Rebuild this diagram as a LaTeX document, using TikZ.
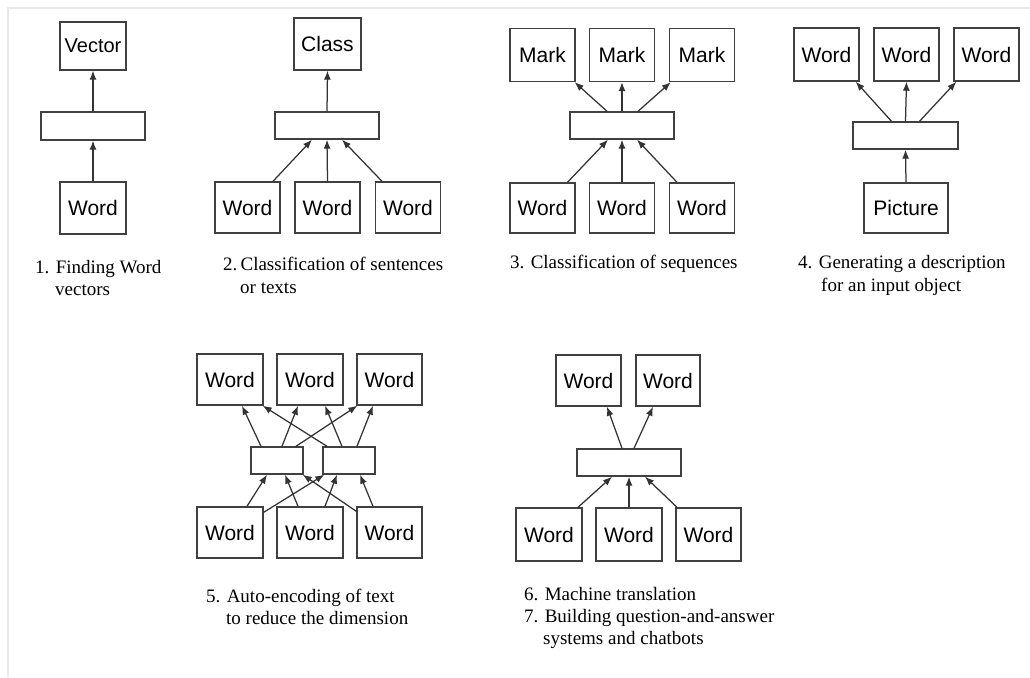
\documentclass[tikz,border=0pt]{standalone}
\usepackage{fontspec}
\setmainfont{Liberation Serif}
\newfontfamily\wordsf{Liberation Sans}
\usetikzlibrary{arrows.meta,calc}
\begin{document}
\begin{tikzpicture}[x=1pt,y=-1pt,
  box/.style={draw=black!75, line width=1.4pt, inner sep=0pt, fill=white,
    font=\wordsf\fontsize{21}{25}\selectfont},
  wbox/.style={box, minimum width=65pt, minimum height=51pt},
  hbox/.style={box, minimum width=104pt, minimum height=27pt},
  sbox/.style={box, minimum width=52pt, minimum height=27pt},
  arr/.style={draw=black!80, line width=1.25pt, -{Latex[length=9pt,width=7pt]}},
  captext/.style={anchor=base west, inner sep=0pt, font=\fontsize{19}{22}\selectfont}]
\useasboundingbox (0,0) rectangle (1030,677);
\fill[white] (0,0) rectangle (1030,677);
\draw[black!9, line width=1.2pt] (8,677) -- (8,8) -- (1030,8);

% ---------- Diagram 1
\node[wbox, minimum width=66pt, minimum height=48pt, font=\wordsf\fontsize{20}{24}\selectfont] (v1) at (93,46) {Vector};
\node[hbox, minimum height=28pt] (h1) at (93,126) {};
\node[wbox, minimum width=66pt, minimum height=52pt] (w1) at (93,208) {Word};
\draw[arr] (w1.north) -- (h1.south);
\draw[arr] (h1.north) -- (v1.south);
\node[captext] (c1a) at (35,273) {1. Finding Word};
\node[captext] (c1b) at (55,295) {vectors};

% ---------- Diagram 2
\node[wbox, minimum width=67pt, minimum height=52pt] (c2) at (327.5,44) {Class};
\node[hbox] (h2) at (327,125.5) {};
\node[wbox] (w21) at (247.5,207.5) {Word};
\node[wbox] (w22) at (327.5,207.5) {Word};
\node[wbox] (w23) at (408,207.5) {Word};
\draw[arr] ($(w21.north)+(25.5,0)$) -- ($(h2.south)+(-15,0)$);
\draw[arr] (w22.north) -- (h2.south);
\draw[arr] ($(w23.north)+(-26,0)$) -- ($(h2.south)+(15,0)$);
\draw[arr] (h2.north) -- (c2.south);
\node[captext] (c2a) at (223,270) {2.\,Classification of sentences};
\node[captext] (c2b) at (240,293) {or texts};

% ---------- Diagram 3
\node[wbox, minimum height=53pt] (m31) at (542.5,55) {Mark};
\node[wbox, minimum height=53pt] (m32) at (622,55) {Mark};
\node[wbox, minimum height=53pt] (m33) at (702,55) {Mark};
\node[hbox] (h3) at (622,125.5) {};
\node[wbox, minimum height=50pt] (w31) at (542.5,208) {Word};
\node[wbox, minimum height=50pt] (w32) at (622,208) {Word};
\node[wbox, minimum height=50pt] (w33) at (702,208) {Word};
\draw[arr] ($(h3.north)+(-15,0)$) -- ($(m31.south east)+(-1,0)$);
\draw[arr] (h3.north) -- (m32.south);
\draw[arr] ($(h3.north)+(16,0)$) -- ($(m33.south west)+(2,0)$);
\draw[arr] ($(w31.north)+(25,0)$) -- ($(h3.south)+(-14,0)$);
\draw[arr] (w32.north) -- (h3.south);
\draw[arr] ($(w33.north)+(-25,0)$) -- ($(h3.south)+(15,0)$);
\node[captext] (c3a) at (510,268) {3. Classification of sequences};

% ---------- Diagram 4
\node[wbox, minimum height=53pt] (w41) at (826.5,54.5) {Word};
\node[wbox, minimum height=53pt] (w42) at (906.5,54.5) {Word};
\node[wbox, minimum height=53pt] (w43) at (986.5,54.5) {Word};
\node[hbox, minimum width=105pt] (h4) at (905.5,135.5) {};
\node[wbox, minimum width=84pt, minimum height=50pt] (p4) at (906,208) {Picture};
\draw[arr] ($(h4.north)+(-14,0)$) -- ($(w41.south east)+(-4,0)$);
\draw[arr] (h4.north) -- (w42.south);
\draw[arr] ($(h4.north)+(14,0)$) -- ($(w43.south west)+(3,0)$);
\draw[arr] (p4.north) -- (h4.south);
\node[captext] (c4a) at (798,268) {4. Generating a description};
\node[captext] (c4b) at (821,291) {for an input object};

% ---------- Diagram 5
\node[wbox, minimum width=66pt] (t51) at (230,379.5) {Word};
\node[wbox, minimum width=66pt] (t52) at (310,379.5) {Word};
\node[wbox] (t53) at (389.5,379.5) {Word};
\node[sbox] (l5) at (277,460.5) {};
\node[sbox] (r5) at (349,460.5) {};
\node[wbox, minimum width=66pt] (b51) at (230,532.5) {Word};
\node[wbox, minimum width=66pt] (b52) at (310,532.5) {Word};
\node[wbox] (b53) at (389.5,532.5) {Word};
\draw[arr] ($(l5.north)+(-16,0)$) -- ($(t51.south)+(12,0)$);
\draw[arr] ($(l5.north)+(5,0)$) -- ($(t52.south)+(-12,0)$);
\draw[arr] ($(l5.north)+(19,0)$) -- ($(t53.south west)+(1,0)$);
\draw[arr] ($(r5.north)+(-22,0)$) -- ($(t51.south east)+(-1,0)$);
\draw[arr] ($(r5.north)+(-7,0)$) -- ($(t52.south)+(15,0)$);
\draw[arr] ($(r5.north)+(8,0)$) -- ($(t53.south)+(-16.5,0)$);
\draw[arr] ($(b51.north)+(17,0)$) -- ($(l5.south)+(-10,0)$);
\draw[arr] ($(b51.north east)+(0,6)$) -- ($(r5.south west)+(2,0)$);
\draw[arr] ($(b52.north)+(-12,0)$) -- ($(l5.south)+(8,0)$);
\draw[arr] ($(b52.north)+(15,0)$) -- ($(r5.south)+(-12,0)$);
\draw[arr] ($(b53.north west)+(0,5)$) -- ($(l5.south east)+(-1,0)$);
\draw[arr] ($(b53.north)+(-16.5,0)$) -- ($(r5.south)+(11,0)$);
\node[captext] (c5a) at (206,602) {5. Auto-encoding of text};
\node[captext] (c5b) at (226,624) {to reduce the dimension};

% ---------- Diagram 6
\node[wbox] (t61) at (588.5,380.5) {Word};
\node[wbox, minimum width=64pt] (t62) at (668,380.5) {Word};
\node[hbox] (h6) at (629,462.5) {};
\node[wbox, minimum width=66pt, minimum height=53pt] (b61) at (549,534.5) {Word};
\node[wbox, minimum width=66pt, minimum height=53pt] (b62) at (629,534.5) {Word};
\node[wbox, minimum height=53pt] (b63) at (708.5,534.5) {Word};
\draw[arr] ($(h6.north)+(-7,0)$) -- ($(t61.south)+(18.5,0)$);
\draw[arr] ($(h6.north)+(5,0)$) -- ($(t62.south)+(-15,0)$);
\draw[arr] ($(b61.north)+(29,0)$) -- ($(h6.south)+(-17,0)$);
\draw[arr] (b62.north) -- (h6.south);
\draw[arr] ($(b63.north)+(-31.5,0)$) -- ($(h6.south)+(16,0)$);
\node[captext] (c6a) at (524,600) {6. Machine translation};
\node[captext] (c6b) at (524,622) {7. Building question-and-answer};
\node[captext] (c6c) at (543,644) {systems and chatbots};
\end{tikzpicture}
\end{document}
